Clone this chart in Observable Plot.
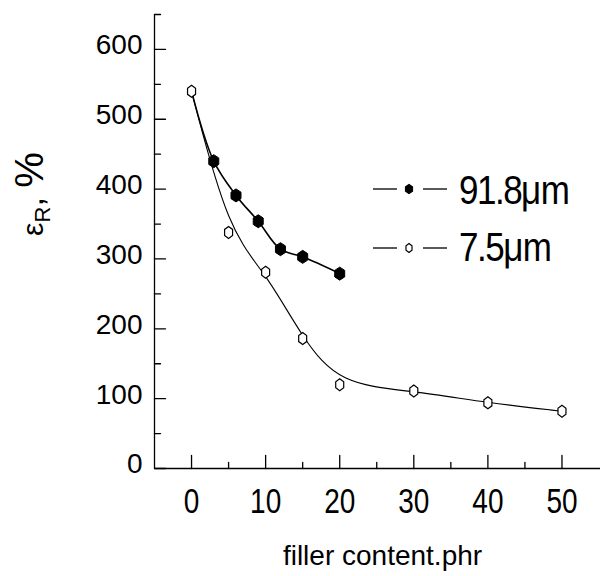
<!DOCTYPE html>
<html><head><meta charset="utf-8">
<script src="https://cdn.jsdelivr.net/npm/d3@7"></script>
<script src="https://cdn.jsdelivr.net/npm/@observablehq/plot@0.6"></script>
<style>body{margin:0;background:#fff} svg{display:block}</style>
</head><body><div id="chart"></div>
<script>
// ---- data ----
const seriesNames = ["91.8", "7.5"];            // particle size, μm
const x91 = [0, 3, 6, 9, 12, 15, 20];            // filler content, phr (0 = unfilled, shared point)
const y91 = [540, 440, 391, 354, 314, 303, 279]; // εR, %
const x75 = [0, 5, 10, 15, 20, 30, 40, 50];
const y75 = [540, 338, 281, 186, 120, 111, 94, 82];
const xTicks = [0, 10, 20, 30, 40, 50];
const xMinorTicks = [5, 15, 25, 35, 45];
const yTicks = [0, 100, 200, 300, 400, 500, 600];
const yMinorTicks = [50, 150, 250, 350, 450, 550, 650];
const xDomain = [-5, 55.2];
const yDomain = [0, 650];
const xTitle = "filler content.phr";

const d91 = x91.map((x, i) => ({x, y: y91[i]}));
const d75 = x75.map((x, i) => ({x, y: y75[i]}));

const hex = (w, h) => ({draw(ctx) {
  ctx.moveTo(0, -h); ctx.lineTo(w, -h / 2); ctx.lineTo(w, h / 2);
  ctx.lineTo(0, h); ctx.lineTo(-w, h / 2); ctx.lineTo(-w, -h / 2); ctx.closePath();
}});
// inward tick shape for Plot.vector
const tickShape = {draw(ctx, l) { ctx.moveTo(0, 0); ctx.lineTo(0, -l); }};

const font = "'Liberation Sans', Arial, sans-serif";
const tickX = (ticks, len) => Plot.vector(ticks, {x: d => d, frameAnchor: "bottom", anchor: "start", length: len, rotate: 0, shape: tickShape, stroke: "#000", strokeWidth: 1.3});
const tickY = (ticks, len) => Plot.vector(ticks, {y: d => d, frameAnchor: "left", anchor: "start", length: len, rotate: 90, shape: tickShape, stroke: "#000", strokeWidth: 1.3});

const chart = Plot.plot({
  width: 600, height: 576,
  marginLeft: 154, marginRight: 0, marginTop: 14, marginBottom: 108,
  x: {domain: xDomain},
  y: {domain: yDomain},
  style: {fontFamily: font, color: "#000", background: "#fff"},
  marks: [
    Plot.ruleX([xDomain[0]], {stroke: "#000", strokeWidth: 1.3}),
    Plot.ruleY([yDomain[0]], {stroke: "#000", strokeWidth: 1.3}),
    tickX(xTicks, 13), tickX(xMinorTicks, 6),
    tickY(yTicks, 11), tickY(yMinorTicks, 6),
    Plot.axisX({ticks: xTicks, tickSize: 0, tickPadding: 20, fontSize: 28, label: null}),
    Plot.axisY({ticks: yTicks, tickSize: 0, tickPadding: 12, fontSize: 28, dy: -4, label: null}),
    Plot.text([xTitle], {frameAnchor: "bottom", dx: 5, dy: 77, lineAnchor: "top", fontSize: 28, fill: "#000"}),
    Plot.line(d91, {x: "x", y: "y", curve: "catmull-rom", stroke: "#000", strokeWidth: 1.6}),
    Plot.line(d75, {x: "x", y: "y", curve: "basis", stroke: "#000", strokeWidth: 1.1}),
    Plot.dot(d91.filter(d => d.x > 0), {x: "x", y: "y", symbol: hex(5, 6.5), r: 5, fill: "#000", stroke: "#000", strokeWidth: 1}),
    Plot.dot(d75, {x: "x", y: "y", symbol: hex(4, 6), r: 5, fill: "#fff", stroke: "#000", strokeWidth: 1.2})
  ]
});

document.getElementById("chart").append(chart);
const svg = d3.select(chart);

// the reference's x tick labels are drawn taller than wide: stretch them about their top
svg.selectAll('[aria-label^="x-axis"] text').each(function () {
  const t = this.getAttribute("transform");
  if (t) {
    this.setAttribute("transform", t + " scale(1,1.25)");
  } else {
    const x = +this.getAttribute("x") || 0, y = +this.getAttribute("y") || 0;
    this.removeAttribute("x"); this.removeAttribute("y");
    this.setAttribute("transform", `translate(${x},${y}) scale(1,1.25)`);
  }
});

// y-axis title  εR, %
const yl = svg.append("text")
  .attr("transform", "translate(43,194) rotate(-90)")
  .attr("text-anchor", "middle")
  .attr("font-family", font).attr("font-size", 40).attr("fill", "#000");
yl.append("tspan").attr("font-size", 30).text("ε");
yl.append("tspan").attr("font-size", 22).attr("dy", 7).text("R");
yl.append("tspan").attr("dy", -7).attr("font-size", 34).text(", ");
yl.append("tspan").text("%");

// legend
const leg = svg.append("g").attr("font-family", font).attr("fill", "#000").attr("text-anchor", "start");
const rows = [
  {name: seriesNames[0], y: 189, base: 204, fill: "#000", sym: hex(3.5, 4.5)},
  {name: seriesNames[1], y: 248, base: 261, fill: "#fff", sym: hex(3, 4.5)}
];
rows.forEach(r => {
  leg.append("line").attr("x1", 373).attr("x2", 397).attr("y1", r.y).attr("y2", r.y).attr("stroke", "#000").attr("stroke-width", 1.3);
  leg.append("line").attr("x1", 423).attr("x2", 447).attr("y1", r.y).attr("y2", r.y).attr("stroke", "#000").attr("stroke-width", 1.3);
  leg.append("path").attr("transform", `translate(409,${r.y})`).attr("d", d3.symbol(r.sym)()).attr("fill", r.fill).attr("stroke", "#000").attr("stroke-width", 1.2);
  const t = leg.append("text").attr("transform", `translate(459,${r.base}) scale(1,1.15)`).attr("font-size", 35).attr("letter-spacing", -1.5);
  t.append("tspan").text(r.name);
  t.append("tspan").attr("letter-spacing", -0.5).text("μm");
});
</script>
</body></html>
